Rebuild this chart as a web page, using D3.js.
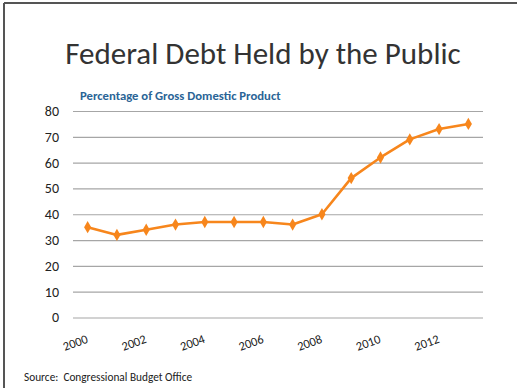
<!DOCTYPE html>
<html>
<head>
<meta charset="utf-8">
<script src="https://cdn.jsdelivr.net/npm/d3@7"></script>
<style>
  html, body { margin: 0; padding: 0; background: #fff; }
  svg { display: block; }
</style>
</head>
<body>
<svg id="chart" width="517" height="388"></svg>
<script>
// Federal debt held by the public, percent of GDP
const years = [2000, 2001, 2002, 2003, 2004, 2005, 2006, 2007, 2008, 2009, 2010, 2011, 2012, 2013];
const debtPct = [35, 32, 34, 36, 37, 37, 37, 36, 40, 54, 62, 69, 73, 75];
const yTicks = [0, 10, 20, 30, 40, 50, 60, 70, 80];
const xTickYears = [2000, 2002, 2004, 2006, 2008, 2010, 2012];

const titleText = "Federal Debt Held by the Public";
const subtitleText = "Percentage of Gross Domestic Product";
const sourceText = "Source:  Congressional Budget Office";

const font = "Calibri, Carlito, 'Open Sans', 'Liberation Sans', sans-serif";
const svg = d3.select("#chart");

// slide frame (top and left edges)
svg.append("line").attr("x1", 4).attr("x2", 517).attr("y1", 3).attr("y2", 3)
  .attr("stroke", "#555").attr("stroke-width", 2);
svg.append("line").attr("x1", 4).attr("x2", 4).attr("y1", 3).attr("y2", 388)
  .attr("stroke", "#555").attr("stroke-width", 2);

const margin = { left: 73, right: 483, top: 111, bottom: 317.5 };

const x = d3.scaleBand().domain(years).range([margin.left, margin.right]);
const y = d3.scaleLinear().domain([0, 80]).range([margin.bottom, margin.top]);

// title
svg.append("text").attr("x", 263).attr("y", 64)
  .attr("text-anchor", "middle")
  .attr("font-family", font).attr("font-size", 31)
  .attr("fill", "#333").text(titleText);

svg.append("text").attr("x", 80).attr("y", 100)
  .attr("font-family", font).attr("font-size", 12.7).attr("font-weight", "bold")
  .attr("fill", "#2a6496").text(subtitleText);

// y axis with gridlines
const yAxis = svg.append("g")
  .attr("transform", `translate(${margin.left},0)`)
  .call(d3.axisLeft(y).tickValues(yTicks).tickSize(-(margin.right - margin.left)).tickPadding(14));
yAxis.select(".domain").remove();
yAxis.selectAll(".tick line").attr("stroke", "#a6a6a6").attr("stroke-width", 1.2);
yAxis.selectAll(".tick text")
  .attr("font-family", font).attr("font-size", 14).attr("fill", "#222");

// x axis labels, rotated
const xAxis = svg.append("g")
  .attr("transform", `translate(0,${margin.bottom})`)
  .call(d3.axisBottom(x).tickValues(xTickYears).tickSize(0).tickFormat(d3.format("d")));
xAxis.select(".domain").remove();
xAxis.selectAll(".tick text")
  .attr("font-family", font).attr("font-size", 12.5).attr("fill", "#222")
  .attr("text-anchor", "end")
  .attr("dy", 0)
  .attr("transform", "translate(0,22) rotate(-20)");

// series line
const line = d3.line()
  .x((d, i) => x(years[i]) + x.bandwidth() / 2)
  .y(d => y(d));

svg.append("path").datum(debtPct)
  .attr("d", line)
  .attr("fill", "none")
  .attr("stroke", "#f7861c")
  .attr("stroke-width", 2.6)
  .attr("stroke-linejoin", "round");

svg.append("g").selectAll("path")
  .data(debtPct)
  .join("path")
  .attr("d", d3.symbol(d3.symbolDiamond, 44))
  .attr("transform", (d, i) => `translate(${x(years[i]) + x.bandwidth() / 2},${y(d)})`)
  .attr("fill", "#f7861c");

// source note
svg.append("text").attr("x", 24).attr("y", 381)
  .attr("font-family", font).attr("font-size", 11.3)
  .attr("fill", "#222")
  .style("white-space", "pre")
  .text(sourceText);
</script>
</body>
</html>
